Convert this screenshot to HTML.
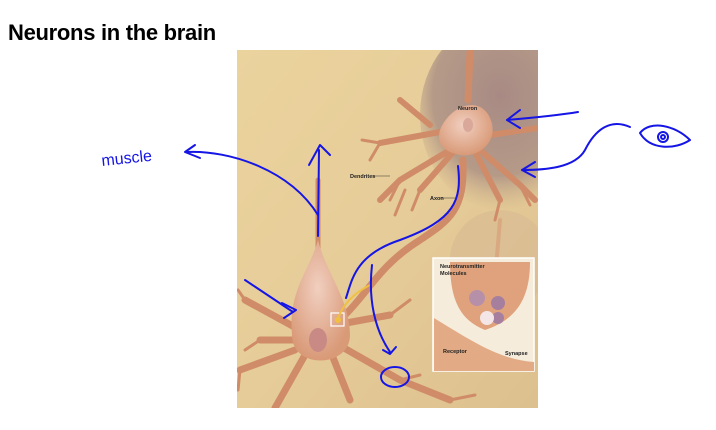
<!DOCTYPE html>
<html><head><meta charset="utf-8"><style>
html,body{margin:0;padding:0;background:#fff;width:716px;height:430px;overflow:hidden}
.t{position:absolute;left:8px;top:20px;font:bold 22px "Liberation Sans",sans-serif;color:#000;letter-spacing:-0.3px}
svg{position:absolute;left:0;top:0}
</style></head><body>
<div class="t">Neurons in the brain</div>
<svg width="716" height="430" viewBox="0 0 716 430">
<defs>
<linearGradient id="bg" x1="0" y1="0" x2="1" y2="1">
<stop offset="0" stop-color="#ebd39e"/><stop offset="0.5" stop-color="#e6cc98"/><stop offset="1" stop-color="#dcc08e"/>
</linearGradient>
<radialGradient id="dk" cx="0.5" cy="0.4" r="0.6">
<stop offset="0" stop-color="#a88a84"/><stop offset="0.7" stop-color="#b59a88"/><stop offset="1" stop-color="#c9ad8c" stop-opacity="0"/>
</radialGradient>
<radialGradient id="cell" cx="0.45" cy="0.4" r="0.6">
<stop offset="0" stop-color="#f1cfc0"/><stop offset="1" stop-color="#d99a78"/>
</radialGradient>
<clipPath id="cp"><rect x="237" y="50" width="301" height="358"/></clipPath>
</defs>
<g clip-path="url(#cp)">
<rect x="237" y="50" width="301" height="358" fill="url(#bg)"/>
<ellipse cx="500" cy="115" rx="80" ry="95" fill="url(#dk)"/>
<ellipse cx="500" cy="260" rx="50" ry="50" fill="#d6b894" opacity="0.5"/>
<g stroke="#d08c68" fill="none" stroke-linecap="round">
<path d="M470 52 L468 100" stroke-width="7"/>
<path d="M440 132 L380 143 M490 135 L538 128 M450 150 L400 180 L380 200 M480 150 L520 185 L535 200 M455 150 L420 190 M475 152 L500 200 M430 125 L400 100" stroke-width="6"/>
<path d="M380 143 L362 140 M380 143 L370 160 M400 180 L390 200 M420 190 L412 210 M520 185 L530 205 M500 200 L495 220 M405 190 L395 215" stroke-width="3"/>
<path d="M463 160 C465 210 450 220 420 240 C380 265 370 290 345 315" stroke-width="7"/>
<path d="M318 180 L318 255" stroke-width="5"/>
<path d="M300 330 L245 300 M295 350 L240 370 M305 355 L275 408 M330 340 L400 380 L450 400 M335 325 L390 315 M300 340 L260 340 M330 350 L350 400" stroke-width="7"/>
<path d="M245 300 L238 290 M240 370 L238 390 M400 380 L420 375 M390 315 L410 300 M260 340 L245 350 M450 400 L475 395" stroke-width="3"/>
<path d="M500 220 L495 280 M495 280 L470 300" stroke-width="4" stroke="#d9a982"/>
</g>
<path d="M440 130 C450 105 480 95 490 118 C500 140 480 158 460 155 C445 152 436 145 440 130Z" fill="url(#cell)"/>
<path d="M292 335 C288 290 310 270 318 240 C325 270 350 300 350 335 C350 368 292 370 292 335Z" fill="url(#cell)"/>
<ellipse cx="318" cy="340" rx="9" ry="12" fill="#c98a85"/>
<ellipse cx="468" cy="125" rx="5" ry="7" fill="#d9a89a"/>
</g>
<rect x="331" y="313" width="13" height="13" fill="none" stroke="#fff" stroke-width="1.2"/>
<circle cx="338" cy="320" r="3" fill="#f0c040"/>
<path d="M338 318 C345 300 360 290 370 285" stroke="#f0c040" stroke-width="2" fill="none"/>
<rect x="433" y="258" width="101" height="113" fill="#f6ecdc" stroke="#fff" stroke-width="1.5"/>
<path d="M450 262 L530 262 C530 300 515 320 485 330 C460 320 450 300 450 262Z" fill="#e0a27c"/>
<path d="M434 318 C470 340 500 360 534 362 L534 371 L434 371Z" fill="#e2ab86"/>
<circle cx="477" cy="298" r="8" fill="#b590a8"/>
<circle cx="498" cy="303" r="7" fill="#a77f9e"/>
<circle cx="498" cy="318" r="6" fill="#a77f9e"/>
<circle cx="487" cy="318" r="7" fill="#f4e6e6"/>
<text x="440" y="268" font-family="Liberation Sans,sans-serif" font-size="5.5" font-weight="bold" fill="#222">Neurotransmitter</text>
<text x="440" y="275" font-family="Liberation Sans,sans-serif" font-size="5.5" font-weight="bold" fill="#222">Molecules</text>
<text x="443" y="353" font-family="Liberation Sans,sans-serif" font-size="5.5" font-weight="bold" fill="#222">Receptor</text>
<text x="505" y="355" font-family="Liberation Sans,sans-serif" font-size="5.5" font-weight="bold" fill="#222">Synapse</text>
<g font-family="Liberation Sans,sans-serif" font-size="5.5" font-weight="bold" fill="#222">
<text x="458" y="110">Neuron</text>
<text x="350" y="178">Dendrites</text>
<text x="430" y="200">Axon</text>
</g>
<path d="M372 176 L390 176 M440 198 L455 198" stroke="#333" stroke-width="0.6"/>
<g stroke="#1515e6" stroke-width="2" fill="none" stroke-linecap="round" stroke-linejoin="round">
<text x="102" y="166" font-family="Liberation Sans,sans-serif" font-size="16" fill="#1515e6" stroke="none" transform="rotate(-6 102 166)">muscle</text>
<path d="M187 152 C230 150 290 170 318 215"/>
<path d="M195 145 L185 152 L200 158"/>
<path d="M318 236 L319 150"/>
<path d="M309 165 L320 145 L330 155"/>
<path d="M578 112 C560 115 530 118 507 120"/>
<path d="M520 110 L507 120 L520 128"/>
<path d="M630 127 C610 118 595 130 585 150 C575 168 545 170 522 170"/>
<path d="M535 162 L522 170 L535 177"/>
<path d="M640 133 C650 120 675 125 690 140 C675 150 650 150 640 133Z"/>
<circle cx="663" cy="137" r="5"/>
<circle cx="663" cy="137" r="2"/>
<path d="M245 280 L293 312"/>
<path d="M282 303 L296 310 L284 318"/>
<path d="M458 166 C462 200 455 220 400 240 C355 255 352 280 346 298"/>
<path d="M372 265 C368 300 375 330 390 352"/>
<path d="M383 350 L390 354 L396 347"/>
<ellipse cx="395" cy="377" rx="14" ry="10"/>
</g>
</svg>
</body></html>
